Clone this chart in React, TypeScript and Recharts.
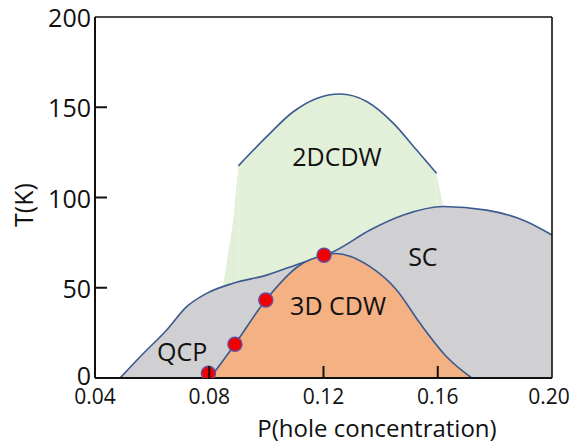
import {
  ComposedChart,
  Area,
  Scatter,
  XAxis,
  YAxis,
  ReferenceLine,
  ReferenceDot,
} from "recharts";

// superconducting dome (upper boundary)
const scP = [0.0488, 0.0558, 0.0651, 0.0721, 0.0791, 0.0884, 0.1001, 0.1118, 0.12, 0.1234, 0.1363, 0.148, 0.162, 0.1771, 0.1912, 0.2];
const scT = [0, 11.8, 26.6, 39.5, 46.9, 52.5, 57, 63.5, 68, 70, 82, 90.3, 95, 93, 86.6, 79.2];

// 3D CDW dome
const cdw3P = [0.0803, 0.089, 0.0998, 0.1118, 0.1202, 0.124, 0.1363, 0.1456, 0.1538, 0.1631, 0.1719];
const cdw3T = [0, 18.7, 43.2, 62.6, 68, 69, 61.7, 48.8, 30.3, 11.8, 0];

// 2D CDW dome: top curve, then the slanted side edges of its shaded region
const cdw2P = [0.0902, 0.1001, 0.1094, 0.1176, 0.1258, 0.1351, 0.1445, 0.1526, 0.1596];
const cdw2T = [117.5, 133.7, 147.5, 154.9, 157.3, 153.2, 141.1, 126.3, 113.4];
const cdw2LeftP = [0.0849, 0.0884, 0.0902];
const cdw2LeftT = [51.5, 87.5, 117.5];
const cdw2RightP = [0.1596, 0.1608, 0.1622];
const cdw2RightT = [113.4, 104, 93];

// measured points (red dots)
const dotP = [0.0797, 0.089, 0.0998, 0.1202];
const dotT = [2.6, 18.7, 43.2, 68];

const xTicks = [0.04, 0.08, 0.12, 0.16, 0.2];
const yTicks = [0, 50, 100, 150, 200];

const regionLabels = [
  { p: 0.1247, t: 122.4, text: "2DCDW" },
  { p: 0.1548, t: 67, text: "SC" },
  { p: 0.1251, t: 40, text: "3D CDW" },
  { p: 0.0705, t: 14.4, text: "QCP" },
];

const zip = (ps: number[], ts: number[]) => ps.map((p, i) => ({ p, t: ts[i] }));

const FONT = "'Open Sans', sans-serif";
const LINE = "#3b5a8f";
const GREEN = "#e2efd9";

function YTick(props: any) {
  const { x, y, payload } = props;
  const v = payload.value;
  return (
    <g>
      {v > 0 && v < 200 && (
        <line x1={x} x2={x + 12} y1={y} y2={y} stroke="#111" strokeWidth={2} />
      )}
      <text x={x - 4} y={v === 0 ? y - 3 : y} textAnchor="end" dominantBaseline="central" fontSize={25} fontFamily={FONT} fill="#111">
        {v}
      </text>
    </g>
  );
}

function XTick(props: any) {
  const { x, y, payload } = props;
  const v = payload.value;
  return (
    <g>
      {v > 0.05 && v < 0.19 && (
        <line x1={x} x2={x} y1={y} y2={y - 12} stroke="#111" strokeWidth={2} />
      )}
      <text x={v > 0.19 ? x - 3 : x} y={y + 18} textAnchor="middle" dominantBaseline="central" fontSize={21} fontFamily={FONT} fill="#111">
        {v.toFixed(2)}
      </text>
    </g>
  );
}

export default function App() {
  return (
    <div style={{ position: "absolute", left: 0, top: 0, background: "#fff" }}>
      <ComposedChart width={571} height={443} margin={{ top: 17, right: 19, bottom: 0, left: 0 }}>
        <XAxis
          type="number"
          dataKey="p"
          domain={[0.04, 0.2]}
          ticks={xTicks}
          allowDataOverflow
          height={65}
          tickSize={0}
          tickMargin={0}
          tickLine={false}
          tick={<XTick />}
          axisLine={{ stroke: "#111", strokeWidth: 2 }}
          label={{
            content: () => (
              <text x={377} y={427} textAnchor="middle" dominantBaseline="central" fontSize={24} fontFamily={FONT} fill="#111">
                P(hole concentration)
              </text>
            ),
          }}
        />
        <YAxis
          type="number"
          domain={[0, 200]}
          ticks={yTicks}
          allowDataOverflow
          width={95}
          tickSize={0}
          tickMargin={0}
          tickLine={false}
          tick={<YTick />}
          axisLine={{ stroke: "#111", strokeWidth: 2 }}
          label={{
            content: () => (
              <text x={23} y={205} transform="rotate(-90 23 205)" textAnchor="middle" dominantBaseline="central" fontSize={25} fontFamily={FONT} fill="#111">
                T(K)
              </text>
            ),
          }}
        />

        <Area data={zip(cdw2LeftP, cdw2LeftT)} dataKey="t" type="linear" fill={GREEN} fillOpacity={1} stroke="none" isAnimationActive={false} />
        <Area data={zip(cdw2RightP, cdw2RightT)} dataKey="t" type="linear" fill={GREEN} fillOpacity={1} stroke="none" isAnimationActive={false} />
        <Area data={zip(cdw2P, cdw2T)} dataKey="t" type="monotone" fill={GREEN} fillOpacity={1} stroke={LINE} strokeWidth={1.6} isAnimationActive={false} />

        <Area data={zip(scP, scT)} dataKey="t" type="monotone" fill="#d0cfd2" fillOpacity={1} stroke={LINE} strokeWidth={1.6} isAnimationActive={false} />
        <Area data={zip(cdw3P, cdw3T)} dataKey="t" type="monotone" fill="#f4b183" fillOpacity={1} stroke={LINE} strokeWidth={1.6} isAnimationActive={false} />

        <ReferenceLine y={200} stroke="#111" strokeWidth={1.6} />
        <ReferenceLine x={0.2} stroke="#111" strokeWidth={1.6} />

        <Scatter
          data={zip(dotP, dotT)}
          dataKey="t"
          isAnimationActive={false}
          shape={(s: any) => <circle cx={s.cx} cy={s.cy} r={7} fill="#f20000" stroke="#6a4c9c" strokeWidth={1.5} />}
        />

        {regionLabels.map((l) => (
          <ReferenceDot
            key={l.text}
            x={l.p}
            y={l.t}
            r={0}
            stroke="none"
            label={{ value: l.text, position: "center", fontSize: 25, fontFamily: FONT, fill: "#111" }}
          />
        ))}
      </ComposedChart>
    </div>
  );
}
